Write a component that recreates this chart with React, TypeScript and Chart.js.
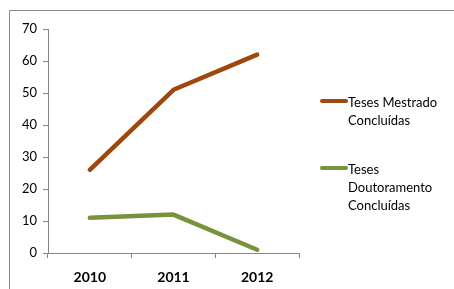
import React, { useEffect, useRef } from "react";
import { Chart, registerables } from "chart.js";

Chart.register(...registerables);

const categories = ["2010", "2011", "2012"];
const mestrado = [26, 51, 62];
const doutoramento = [11, 12, 1];
const seriesNames = [["Teses Mestrado", "Concluídas"], ["Teses", "Doutoramento", "Concluídas"]];
const colors = ["#9E480E", "#77933C"];

const FONT = "Lato, 'Open Sans', sans-serif";

const extrasPlugin = {
  id: "extras",
  afterDraw(chart: any) {
    const ctx = chart.ctx;
    ctx.save();
    // outer border (top and left)
    ctx.strokeStyle = "#8c8c8c";
    ctx.lineWidth = 1;
    ctx.beginPath();
    ctx.moveTo(9.5, 289);
    ctx.lineTo(9.5, 10.5);
    ctx.lineTo(454, 10.5);
    ctx.stroke();
    // legend
    const items = [
      { y: 101, lines: seriesNames[0], color: colors[0] },
      { y: 168, lines: seriesNames[1], color: colors[1] },
    ];
    ctx.font = `13px ${FONT}`;
    ctx.fillStyle = "#000";
    ctx.textBaseline = "middle";
    ctx.textAlign = "left";
    items.forEach((it) => {
      ctx.strokeStyle = it.color;
      ctx.lineWidth = 4;
      ctx.lineCap = "round";
      ctx.beginPath();
      ctx.moveTo(322, it.y);
      ctx.lineTo(346, it.y);
      ctx.stroke();
      it.lines.forEach((t, i) => {
        ctx.fillText(t, 348, it.y + 2 + i * 18);
      });
    });
    ctx.restore();
  },
};

export default function App() {
  const ref = useRef<HTMLCanvasElement>(null);
  useEffect(() => {
    if (!ref.current) return;
    const chart = new Chart(ref.current, {
      type: "line",
      data: {
        labels: categories,
        datasets: [
          {
            label: seriesNames[0].join(" "),
            data: mestrado,
            borderColor: colors[0],
            backgroundColor: colors[0],
            borderWidth: 4.5,
            pointRadius: 0,
            borderCapStyle: "round",
            borderJoinStyle: "round",
          },
          {
            label: seriesNames[1].join(" "),
            data: doutoramento,
            borderColor: colors[1],
            backgroundColor: colors[1],
            borderWidth: 4.5,
            pointRadius: 0,
            borderCapStyle: "round",
            borderJoinStyle: "round",
          },
        ],
      },
      options: {
        responsive: false,
        animation: false,
        layout: { padding: { left: 0, right: 155, top: 29, bottom: 0 } },
        plugins: { legend: { display: false }, tooltip: { enabled: false } },
        scales: {
          x: {
            offset: true,
            grid: {
              offset: true,
              drawOnChartArea: false,
              drawTicks: true,
              tickLength: 5,
              color: "#868686",
            },
            border: { color: "#868686" },
            ticks: {
              color: "#000",
              font: { family: FONT, size: 14, weight: "bold" },
              padding: 11,
            },
            afterFit: (s: any) => {
              s.height = 36;
            },
          },
          y: {
            min: 0,
            max: 70,
            grid: {
              drawOnChartArea: false,
              drawTicks: true,
              tickLength: 5,
              color: "#868686",
            },
            border: { color: "#868686" },
            ticks: {
              stepSize: 10,
              color: "#000",
              font: { family: FONT, size: 13 },
              padding: 6,
            },
            afterFit: (s: any) => {
              s.width = 48;
            },
          },
        },
      },
      plugins: [extrasPlugin],
    } as any);
    return () => chart.destroy();
  }, []);
  return (
    <div style={{ position: "absolute", left: 0, top: 0, width: 454, height: 289, background: "#fff" }}>
      <canvas ref={ref} width={454} height={289} />
    </div>
  );
}
